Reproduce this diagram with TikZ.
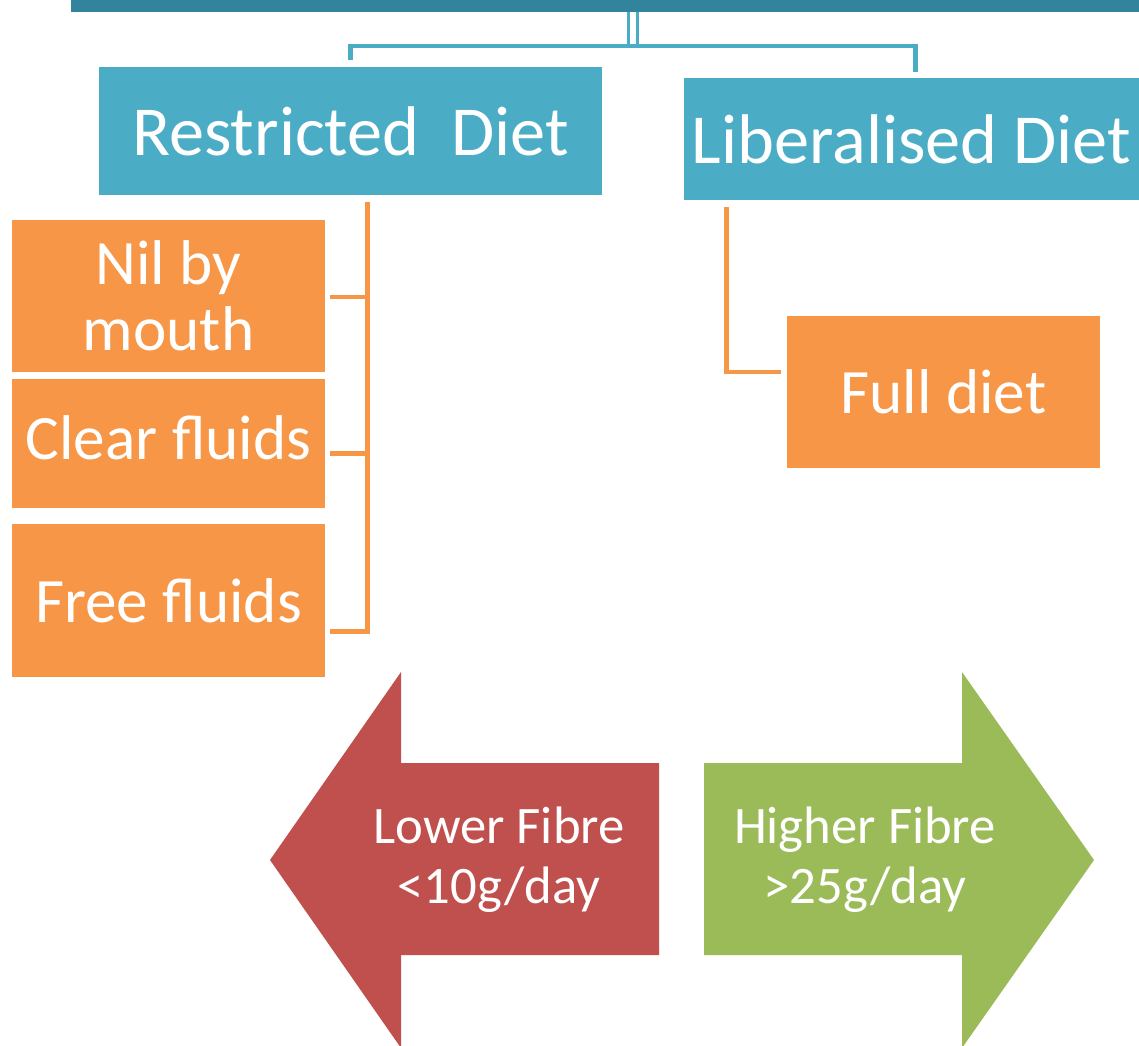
\documentclass[tikz,border=0pt]{standalone}
\usepackage{fontspec}
\setmainfont{Carlito}
\usepackage{tikz}
\usetikzlibrary{%
  calc%
  ,positioning
}
\definecolor{barteal}{HTML}{31849B}
\definecolor{boxblue}{HTML}{4BACC6}
\definecolor{boxorange}{HTML}{F79646}
\definecolor{arrred}{HTML}{C0504D}
\definecolor{arrgreen}{HTML}{9BBB59}
\newcommand{\px}{0.02cm}

\begin{document}
\begin{tikzpicture}[x=0.02cm,y=-0.02cm,
    dietbox/.style 2 args={rectangle,fill=boxblue,text=white,inner sep=0pt,
      minimum width=#1*\px,minimum height=#2*\px,font=\fontsize{40}{44}\selectfont},
    kindbox/.style 2 args={rectangle,fill=boxorange,text=white,inner sep=0pt,align=center,
      minimum width=#1*\px,minimum height=#2*\px,font=\fontsize{36}{37.5}\selectfont},
    bluelink/.style={draw=boxblue,line width=2.7pt},
    twinlink/.style={draw=boxblue,line width=2pt},
    orangelink/.style={draw=boxorange,line width=2.7pt},
    arrtext/.style={text=white,align=center,font=\fontsize{30}{34}\selectfont}]
      \useasboundingbox (0,0) rectangle (1139,1045);
      %% top bar and the two diets
      \node[rectangle,fill=barteal,inner sep=0pt,minimum width=1068*\px,minimum height=12*\px] (bar) at (605,6) {};
      \node[dietbox={503}{128}] (restr) at (350.5,131) {Restricted\ \ Diet};
      \node[dietbox={455}{122}] (lib) at (911.5,139) {Liberalised Diet};
      \coordinate (split) at (633,46);
      \draw[twinlink] ($(split)+(-4.5,0)$) -- ($(split |- bar.south)+(-4.5,0)$);
      \draw[twinlink] ($(split)+(4.5,0)$) -- ($(split |- bar.south)+(4.5,0)$);
      \draw[bluelink] ($(restr.north)+(0,-7)$) |- (split) -| ($(lib.north)+(4,-6)$);
      %% restricted diet
      \node[kindbox={313}{152}] (nil) at (168.5,296) {Nil by\\mouth};
      \node[kindbox={313}{129}] (clear) at (168.5,443.5) {\raisebox{7pt}{Clear fluids}};
      \node[kindbox={313}{153}] (free) at (168.5,600.5) {Free fluids};
      \coordinate (rtop) at ($(restr.south)+(17,7)$);
      \draw[orangelink] (rtop) |- ($(free.east)+(5,31)$);
      \draw[orangelink] ($(nil.east)+(5,1)$) -- (rtop |- {$(nil.east)+(5,1)$});
      \draw[orangelink] ($(clear.east)+(5,10)$) -- (rtop |- {$(clear.east)+(5,10)$});
      %% liberalised diet
      \node[kindbox={313}{152}] (full) at (943.5,392) {Full diet};
      \coordinate (ltop) at ($(lib.south west)+(43,7)$);
      \draw[orangelink] (ltop) |- ($(full.west)+(-6,-20)$);
      %% fibre arrows
      \fill[arrred] (659,763) -- (401,763) -- (401,672) -- (270,860) -- (401,1048)
        -- (401,955) -- (659,955) -- cycle;
      \node[arrtext] (lower) at (499,860) {Lower Fibre\\<10g/day};
      \fill[arrgreen] (704,763) -- (962,763) -- (962,672) -- (1094,860) -- (962,1048)
        -- (962,955) -- (704,955) -- cycle;
      \node[arrtext] (higher) at (865,860) {Higher Fibre\\>25g/day};
\end{tikzpicture}
\end{document}
